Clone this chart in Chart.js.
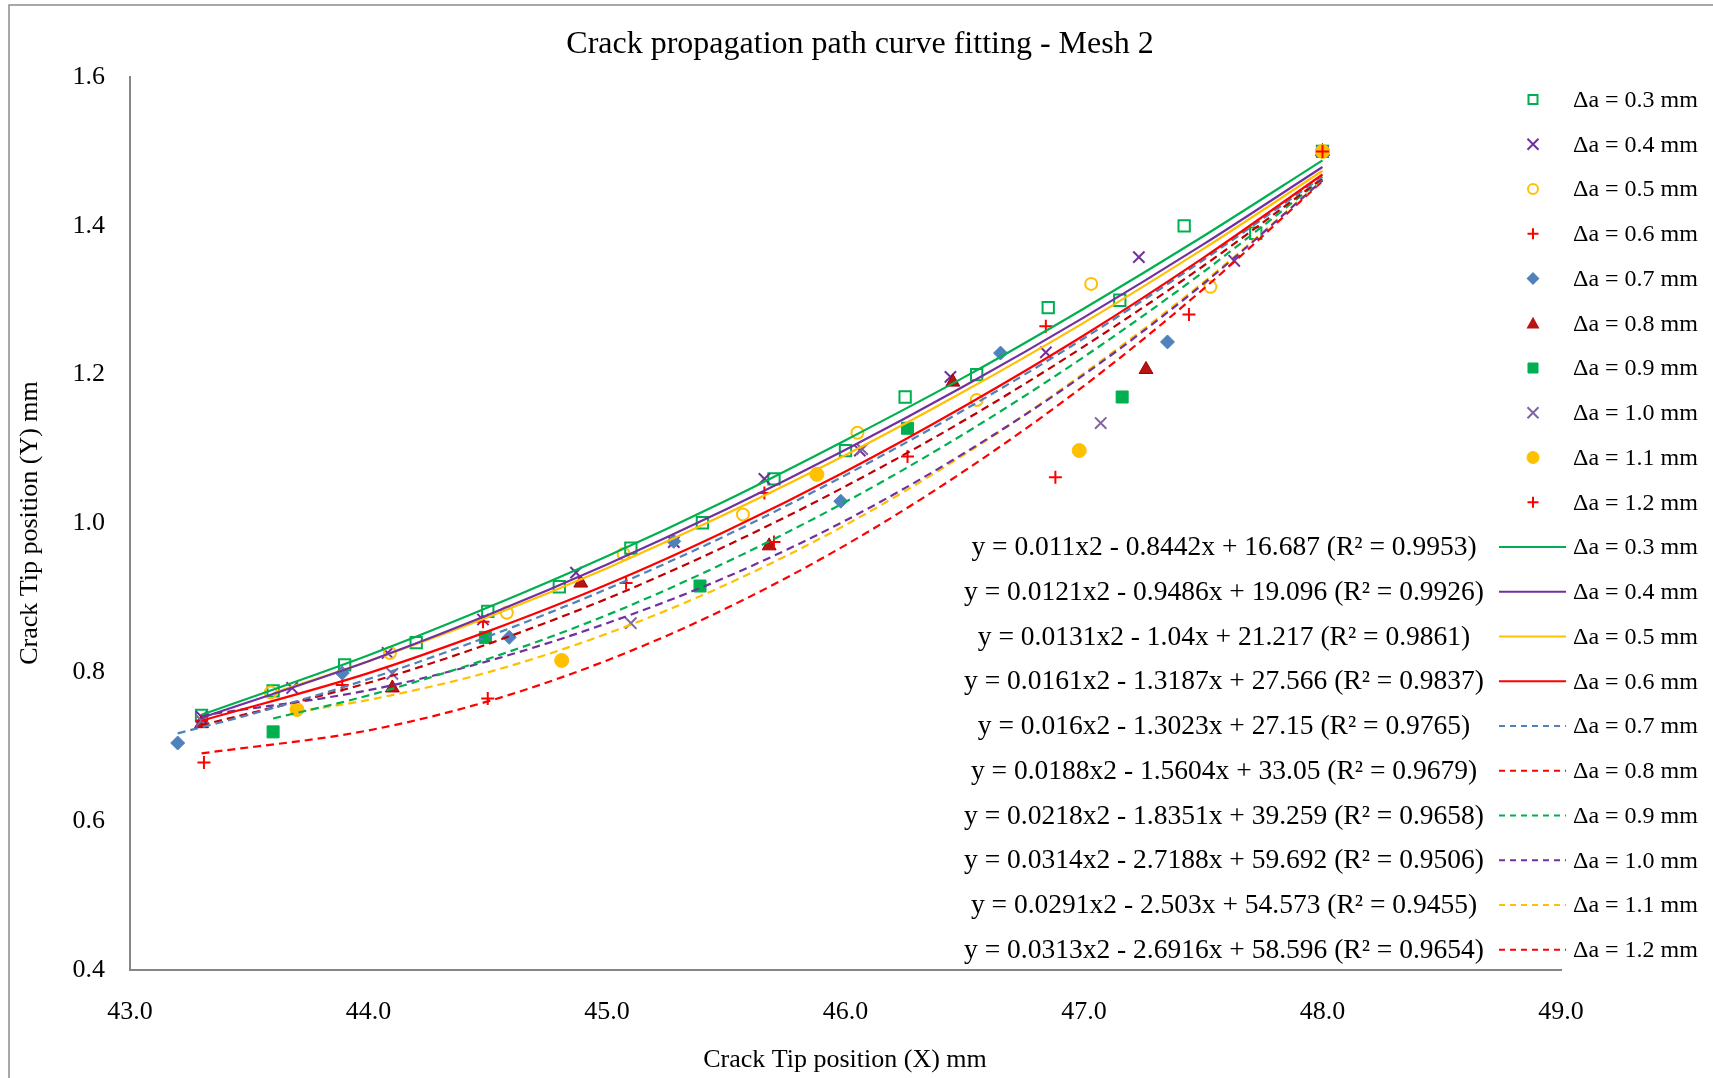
<!DOCTYPE html>
<html>
<head>
<meta charset="utf-8">
<script src="https://cdn.jsdelivr.net/npm/chart.js@4.4.1/dist/chart.umd.min.js"></script>
<style>
  html, body { margin: 0; padding: 0; background: #fff; }
  canvas { display: block; }
</style>
</head>
<body>
<canvas id="crackChart" width="1713" height="1078"></canvas>
<script>
// crack tip positions for each increment size
const x03 = [43.3, 43.6, 43.9, 44.2, 44.5, 44.8, 45.1, 45.4, 45.7, 46.0, 46.25, 46.55, 46.85, 47.15, 47.42, 47.72, 48.0];
const y03 = [0.742, 0.775, 0.81, 0.84, 0.882, 0.915, 0.967, 1.001, 1.06, 1.098, 1.17, 1.2, 1.29, 1.3, 1.4, 1.39, 1.5];
const x04 = [43.3, 43.68, 44.08, 44.48, 44.87, 45.28, 45.66, 46.06, 46.44, 46.84, 47.23, 47.63, 48.0];
const y04 = [0.74, 0.779, 0.826, 0.871, 0.934, 0.975, 1.06, 1.098, 1.197, 1.23, 1.358, 1.353, 1.5];
const x05 = [43.59, 44.09, 44.58, 45.07, 45.57, 46.05, 46.55, 47.03, 47.53, 48.0];
const y05 = [0.773, 0.826, 0.88, 0.959, 1.012, 1.122, 1.166, 1.322, 1.318, 1.5];
const x06 = [43.3, 43.89, 44.48, 45.08, 45.66, 46.26, 46.84, 47.44, 48.0];
const y06 = [0.735, 0.783, 0.868, 0.92, 1.041, 1.09, 1.265, 1.281, 1.5];
const x07 = [43.2, 43.89, 44.59, 45.28, 45.98, 46.65, 47.35, 48.0];
const y07 = [0.705, 0.799, 0.847, 0.976, 1.03, 1.229, 1.244, 1.5];
const x08 = [43.3, 44.1, 44.89, 45.68, 46.45, 47.26, 48.0];
const y08 = [0.731, 0.779, 0.92, 0.97, 1.19, 1.207, 1.5];
const x09 = [43.6, 44.49, 45.39, 46.26, 47.16, 48.0];
const y09 = [0.72, 0.847, 0.916, 1.128, 1.17, 1.5];
const x10 = [43.3, 44.1, 45.1, 46.07, 47.07, 48.0];
const y10 = [0.735, 0.798, 0.866, 1.1, 1.135, 1.5];
const x11 = [43.7, 44.81, 45.88, 46.98, 48.0];
const y11 = [0.75, 0.816, 1.066, 1.098, 1.5];
const x12 = [43.31, 44.5, 45.7, 46.88, 48.0];
const y12 = [0.679, 0.765, 0.975, 1.062, 1.5];

// polynomial trendlines
const fitX = [43.3, 44.0, 44.5, 45.0, 45.5, 46.0, 46.5, 47.0, 47.5, 48.0];
const fitX43_6 = [43.6, 44.0, 44.5, 45.0, 45.5, 46.0, 46.5, 47.0, 47.5, 48.0];
const fitX43_2 = [43.2, 43.5, 44.0, 44.5, 45.0, 45.5, 46.0, 46.5, 47.0, 47.5, 48.0];
const fitX43_7 = [43.7, 44.0, 44.5, 45.0, 45.5, 46.0, 46.5, 47.0, 47.5, 48.0];
const f03 = [0.743, 0.823, 0.887, 0.956, 1.031, 1.112, 1.197, 1.289, 1.386, 1.488];
const f04 = [0.739, 0.815, 0.877, 0.945, 1.019, 1.099, 1.185, 1.277, 1.375, 1.479];
const f05 = [0.772, 0.815, 0.874, 0.940, 1.013, 1.092, 1.178, 1.270, 1.369, 1.474];
const f06 = [0.735, 0.799, 0.855, 0.918, 0.990, 1.070, 1.158, 1.253, 1.357, 1.469];
const f07 = [0.718, 0.743, 0.791, 0.848, 0.912, 0.984, 1.065, 1.153, 1.249, 1.354, 1.466];
const f08 = [0.729, 0.786, 0.838, 0.899, 0.970, 1.050, 1.139, 1.238, 1.346, 1.464];
const f09 = [0.738, 0.769, 0.818, 0.877, 0.948, 1.029, 1.121, 1.224, 1.338, 1.463];
const f10 = [0.742, 0.776, 0.815, 0.866, 0.928, 1.004, 1.095, 1.200, 1.322, 1.461];
const f11 = [0.747, 0.763, 0.800, 0.852, 0.918, 0.998, 1.093, 1.202, 1.324, 1.461];
const f12 = [0.691, 0.722, 0.761, 0.816, 0.886, 0.971, 1.071, 1.185, 1.315, 1.460];

const seriesNames = ['Δa = 0.3 mm', 'Δa = 0.4 mm', 'Δa = 0.5 mm', 'Δa = 0.6 mm', 'Δa = 0.7 mm',
  'Δa = 0.8 mm', 'Δa = 0.9 mm', 'Δa = 1.0 mm', 'Δa = 1.1 mm', 'Δa = 1.2 mm'];
const fitLabels = [
  'y = 0.011x2 - 0.8442x + 16.687 (R² = 0.9953)',
  'y = 0.0121x2 - 0.9486x + 19.096 (R² = 0.9926)',
  'y = 0.0131x2 - 1.04x + 21.217 (R² = 0.9861)',
  'y = 0.0161x2 - 1.3187x + 27.566 (R² = 0.9837)',
  'y = 0.016x2 - 1.3023x + 27.15 (R² = 0.9765)',
  'y = 0.0188x2 - 1.5604x + 33.05 (R² = 0.9679)',
  'y = 0.0218x2 - 1.8351x + 39.259 (R² = 0.9658)',
  'y = 0.0314x2 - 2.7188x + 59.692 (R² = 0.9506)',
  'y = 0.0291x2 - 2.503x + 54.573 (R² = 0.9455)',
  'y = 0.0313x2 - 2.6916x + 58.596 (R² = 0.9654)'
];
const xTicks = [43, 44, 45, 46, 47, 48, 49];
const yTicks = [0.4, 0.6, 0.8, 1.0, 1.2, 1.4, 1.6];

const pointsX = [x03, x04, x05, x06, x07, x08, x09, x10, x11, x12];
const pointsY = [y03, y04, y05, y06, y07, y08, y09, y10, y11, y12];
const trendX = [fitX, fitX, fitX43_6, fitX, fitX43_2, fitX, fitX43_6, fitX, fitX43_7, fitX];
const trendY = [f03, f04, f05, f06, f07, f08, f09, f10, f11, f12];

const zip = (xs, ys) => xs.map((x, i) => ({ x: x, y: ys[i] }));

// marker and line look for each series
const markers = [
  { style: 'rect', r: 8, fill: 'rgba(0,0,0,0)', stroke: '#00B050', lw: 2 },
  { style: 'crossRot', r: 8, fill: '#7030A0', stroke: '#7030A0', lw: 2 },
  { style: 'circle', r: 6, fill: 'rgba(0,0,0,0)', stroke: '#FFC000', lw: 2 },
  { style: 'cross', r: 6.5, fill: '#FF0000', stroke: '#FF0000', lw: 2 },
  { style: 'rectRot', r: 7, fill: '#4F81BD', stroke: '#4F81BD', lw: 1 },
  { style: 'triangle', r: 8, fill: '#B81414', stroke: '#A00000', lw: 1 },
  { style: 'rect', r: 8.5, fill: '#00B050', stroke: '#00B050', lw: 1 },
  { style: 'crossRot', r: 8, fill: '#8064A2', stroke: '#8064A2', lw: 2 },
  { style: 'circle', r: 7, fill: '#FFC000', stroke: '#FFC000', lw: 1 },
  { style: 'cross', r: 6.5, fill: '#FF0000', stroke: '#FF0000', lw: 2 }
];
const lineColors = ['#00B050', '#7030A0', '#FFC000', '#FF0000', '#4F81BD',
  '#C00000', '#00B050', '#7030A0', '#FFC000', '#FF0000'];
const legendLineColors = ['#00B050', '#7030A0', '#FFC000', '#FF0000', '#4F81BD',
  '#FF0000', '#00B050', '#7030A0', '#FFC000', '#FF0000'];
const dashed = [false, false, false, false, true, true, true, true, true, true];

const datasets = [];
for (let i = 0; i < 10; i++) {
  datasets.push({
    label: 'fit ' + seriesNames[i],
    data: zip(trendX[i], trendY[i]),
    showLine: true,
    borderColor: lineColors[i],
    borderWidth: 2.2,
    borderDash: dashed[i] ? [8, 5] : [],
    pointRadius: 0,
    cubicInterpolationMode: 'monotone',
    order: 0
  });
}
for (let i = 0; i < 10; i++) {
  const m = markers[i];
  datasets.push({
    label: seriesNames[i],
    data: zip(pointsX[i], pointsY[i]),
    showLine: false,
    pointStyle: m.style,
    pointRadius: m.r,
    pointHoverRadius: m.r,
    pointBackgroundColor: m.fill,
    pointBorderColor: m.stroke,
    pointBorderWidth: m.lw,
    order: 100 - i
  });
}

const serif = '"Liberation Serif", "Times New Roman", serif';

function drawMark(ctx, m, x, y) {
  ctx.save();
  ctx.fillStyle = m.fill;
  ctx.strokeStyle = m.stroke;
  ctx.lineWidth = m.lw;
  ctx.beginPath();
  if (m.style === 'rect') {
    const s = m.fill === 'rgba(0,0,0,0)' ? 4.5 : 5;
    ctx.rect(x - s, y - s, 2 * s, 2 * s);
    ctx.fill(); ctx.stroke();
  } else if (m.style === 'circle') {
    ctx.arc(x, y, m.fill === 'rgba(0,0,0,0)' ? 5 : 6, 0, Math.PI * 2);
    ctx.fill(); ctx.stroke();
  } else if (m.style === 'crossRot') {
    const s = 5.5;
    ctx.moveTo(x - s, y - s); ctx.lineTo(x + s, y + s);
    ctx.moveTo(x + s, y - s); ctx.lineTo(x - s, y + s);
    ctx.stroke();
  } else if (m.style === 'cross') {
    const s = 5.5;
    ctx.moveTo(x - s, y); ctx.lineTo(x + s, y);
    ctx.moveTo(x, y - s); ctx.lineTo(x, y + s);
    ctx.stroke();
  } else if (m.style === 'rectRot') {
    const s = 6.5;
    ctx.moveTo(x, y - s); ctx.lineTo(x + s, y); ctx.lineTo(x, y + s); ctx.lineTo(x - s, y);
    ctx.closePath(); ctx.fill();
  } else if (m.style === 'triangle') {
    const s = 6.5;
    ctx.moveTo(x, y - s); ctx.lineTo(x + s, y + s * 0.8); ctx.lineTo(x - s, y + s * 0.8);
    ctx.closePath(); ctx.fill();
  }
  ctx.restore();
}

const decorations = {
  id: 'decorations',
  afterDraw(chart) {
    const ctx = chart.ctx;
    ctx.save();
    // outer frame of the chart object
    ctx.strokeStyle = '#8c8c8c';
    ctx.lineWidth = 1.5;
    ctx.beginPath();
    ctx.moveTo(9, 1078); ctx.lineTo(9, 5); ctx.lineTo(1713, 5);
    ctx.stroke();

    ctx.fillStyle = '#000';
    ctx.textAlign = 'center';
    ctx.textBaseline = 'middle';
    ctx.font = '32px ' + serif;
    ctx.fillText('Crack propagation path curve fitting - Mesh 2', 860, 45);
    ctx.font = '26px ' + serif;
    ctx.fillText('Crack Tip position (X) mm', 845, 1060);
    ctx.save();
    ctx.translate(30, 523);
    ctx.rotate(-Math.PI / 2);
    ctx.fillText('Crack Tip position (Y) mm', 0, 0);
    ctx.restore();

    // legend: markers, then trendlines with their equations
    const rowH = 44.75;
    const top = 99.5;
    ctx.textAlign = 'left';
    ctx.font = '24px ' + serif;
    for (let i = 0; i < 10; i++) {
      const y = top + i * rowH;
      drawMark(ctx, markers[i], 1533, y);
      ctx.fillStyle = '#000';
      ctx.fillText(seriesNames[i], 1573, y + 1);
    }
    for (let i = 0; i < 10; i++) {
      const y = top + (i + 10) * rowH;
      ctx.save();
      ctx.strokeStyle = legendLineColors[i];
      ctx.lineWidth = 2;
      ctx.setLineDash(dashed[i] ? [6, 5] : []);
      ctx.beginPath();
      ctx.moveTo(1499, y); ctx.lineTo(1566, y);
      ctx.stroke();
      ctx.restore();
      ctx.fillStyle = '#000';
      ctx.textAlign = 'left';
      ctx.font = '24px ' + serif;
      ctx.fillText(seriesNames[i], 1573, y + 1);
      ctx.textAlign = 'center';
      ctx.font = '27.5px ' + serif;
      ctx.fillText(fitLabels[i], 1224, y + 1);
    }
    ctx.restore();
  }
};

new Chart(document.getElementById('crackChart').getContext('2d'), {
  type: 'scatter',
  data: { datasets: datasets },
  options: {
    responsive: false,
    animation: false,
    devicePixelRatio: 1,
    layout: { padding: { left: 0, top: 77, right: 152, bottom: 0 } },
    scales: {
      x: {
        type: 'linear',
        min: 43, max: 49,
        afterBuildTicks: s => { s.ticks = xTicks.map(v => ({ value: v })); },
        afterFit: s => { s.height = 108; },
        ticks: {
          callback: v => Number(v).toFixed(1),
          font: { family: serif, size: 26 },
          color: '#000',
          padding: 27,
          maxRotation: 0
        },
        grid: { display: false, drawTicks: false },
        border: { color: '#868686', width: 2 }
      },
      y: {
        min: 0.4, max: 1.6,
        afterBuildTicks: s => { s.ticks = yTicks.map(v => ({ value: v })); },
        afterFit: s => { s.width = 130; },
        ticks: {
          callback: v => Number(v).toFixed(1),
          font: { family: serif, size: 26 },
          color: '#000',
          padding: 25
        },
        grid: { display: false, drawTicks: false },
        border: { color: '#868686', width: 2 }
      }
    },
    plugins: {
      legend: { display: false },
      title: { display: false },
      tooltip: { enabled: false }
    }
  },
  plugins: [decorations]
});
</script>
</body>
</html>
